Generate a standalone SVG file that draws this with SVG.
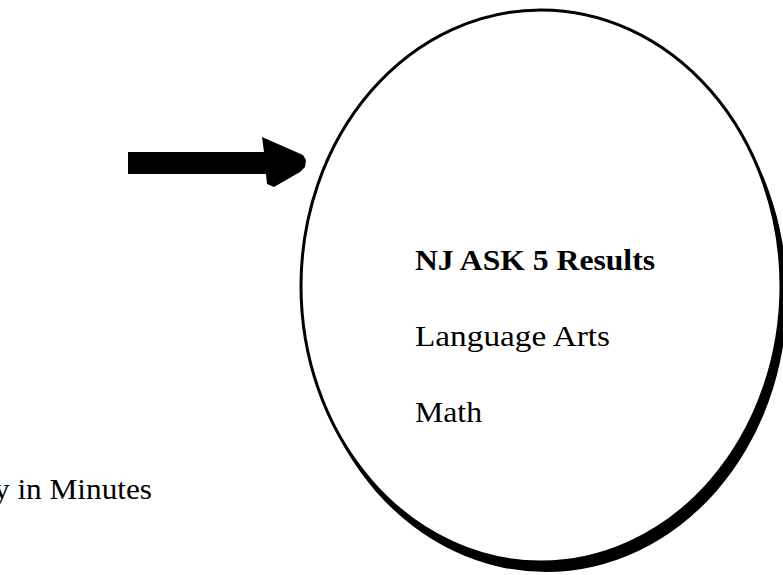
<svg xmlns="http://www.w3.org/2000/svg" width="783" height="575" viewBox="0 0 783 575">
<style>
.t{font-family:"Liberation Serif","Times New Roman",serif;fill:#000}
.c{font-size:29px}
.b{font-weight:bold}
</style>
<rect width="783" height="575" fill="#fff"/>
<g id="connectors">
<path d="M128,152 L264,152 L262,137 L303,155 L306,160 L305,167 L300,172 L274,187 L267,184 L266,174 L128,174 Z" fill="#000"/>
</g>
<g id="results">
<ellipse cx="546" cy="296" rx="241" ry="276" fill="#000"/>
<ellipse cx="541" cy="286" rx="240" ry="276" fill="#fff" stroke="#000" stroke-width="3"/>
<text class="t c b" x="415" y="270" textLength="240" lengthAdjust="spacingAndGlyphs">NJ ASK 5 Results</text>
<text class="t c" x="415" y="346" textLength="195" lengthAdjust="spacingAndGlyphs">Language Arts</text>
<text class="t c" x="415" y="422" textLength="67" lengthAdjust="spacingAndGlyphs">Math</text>
</g>
<g id="duration">
<text class="t" x="-6" y="499" font-size="29" textLength="158" lengthAdjust="spacingAndGlyphs">y in Minutes</text>
</g>
</svg>
